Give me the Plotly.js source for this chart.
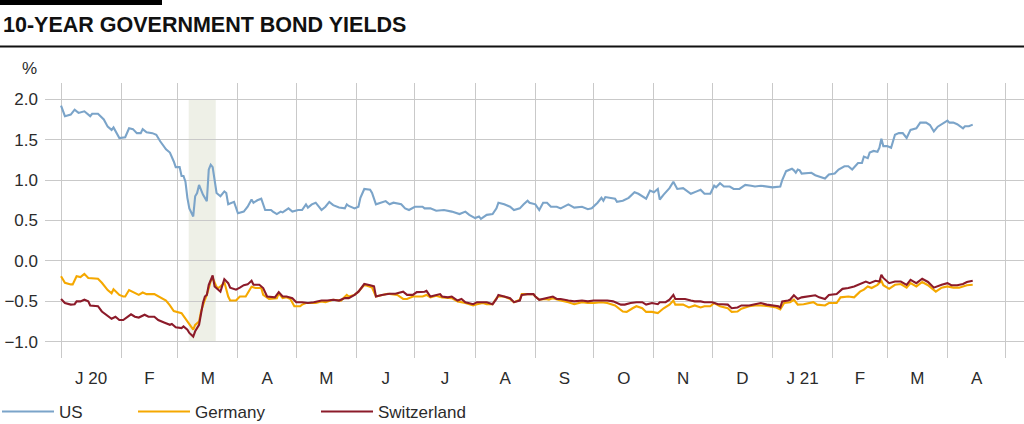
<!DOCTYPE html>
<html>
<head>
<meta charset="utf-8">
<script src="https://cdn.plot.ly/plotly-3.0.1.min.js"></script>
<style>
html,body{margin:0;padding:0;background:#fff;}
#chart{width:1024px;height:424px;}
</style>
</head>
<body>
<div id="chart"></div>
<script>
// ---------------- DATA ----------------
const monthStarts = ['2020-01-01','2020-02-01','2020-03-01','2020-04-01','2020-05-01','2020-06-01','2020-07-01','2020-08-01','2020-09-01','2020-10-01','2020-11-01','2020-12-01','2021-01-01','2021-02-01','2021-03-01','2021-04-01','2021-05-01'];
const monthLabels = ['J 20','F','M','A','M','J','J','A','S','O','N','D','J 21','F','M','A'];

const usDates = ['2020-01-01','2020-01-03','2020-01-06','2020-01-08','2020-01-10','2020-01-13','2020-01-16','2020-01-17','2020-01-20','2020-01-22','2020-01-23','2020-01-25','2020-01-27','2020-01-28','2020-01-30','2020-01-31',
'2020-02-03','2020-02-05','2020-02-07','2020-02-09','2020-02-11','2020-02-12','2020-02-14','2020-02-17','2020-02-19','2020-02-21','2020-02-24','2020-02-26','2020-02-28','2020-02-29',
'2020-03-02','2020-03-03','2020-03-04','2020-03-05','2020-03-06','2020-03-07','2020-03-09','2020-03-10','2020-03-11','2020-03-12','2020-03-14','2020-03-16','2020-03-17','2020-03-18','2020-03-19','2020-03-21','2020-03-23','2020-03-25','2020-03-26','2020-03-27','2020-03-30',
'2020-04-01','2020-04-04','2020-04-06','2020-04-08','2020-04-09','2020-04-11','2020-04-13','2020-04-15','2020-04-18','2020-04-19','2020-04-21','2020-04-23','2020-04-24','2020-04-27','2020-04-29',
'2020-05-02','2020-05-04','2020-05-06','2020-05-07','2020-05-09','2020-05-11','2020-05-14','2020-05-16','2020-05-18','2020-05-20','2020-05-23','2020-05-26','2020-05-27','2020-05-28','2020-05-31',
'2020-06-02','2020-06-03','2020-06-05','2020-06-08','2020-06-09','2020-06-11','2020-06-13','2020-06-16','2020-06-18','2020-06-20','2020-06-24','2020-06-26','2020-06-28',
'2020-07-01','2020-07-05','2020-07-06','2020-07-09','2020-07-12','2020-07-16','2020-07-20','2020-07-24','2020-07-27','2020-07-29',
'2020-08-01','2020-08-03','2020-08-04','2020-08-07','2020-08-10','2020-08-12','2020-08-13','2020-08-16','2020-08-19','2020-08-21','2020-08-24','2020-08-26','2020-08-28','2020-08-29',
'2020-09-01','2020-09-03','2020-09-05','2020-09-07','2020-09-09','2020-09-12','2020-09-14','2020-09-18','2020-09-21','2020-09-25','2020-09-28','2020-09-30',
'2020-10-03','2020-10-05','2020-10-06','2020-10-07','2020-10-09','2020-10-12','2020-10-13','2020-10-16','2020-10-19','2020-10-22','2020-10-24','2020-10-28','2020-10-30',
'2020-11-01','2020-11-03','2020-11-04','2020-11-06','2020-11-09','2020-11-11','2020-11-13','2020-11-16','2020-11-18','2020-11-20','2020-11-23','2020-11-25','2020-11-27','2020-11-30',
'2020-12-02','2020-12-03','2020-12-05','2020-12-07','2020-12-10','2020-12-12','2020-12-15','2020-12-18','2020-12-21','2020-12-23','2020-12-26','2020-12-29',
'2021-01-01','2021-01-05','2021-01-06','2021-01-08','2021-01-11','2021-01-12','2021-01-13','2021-01-14','2021-01-15','2021-01-16','2021-01-21','2021-01-23','2021-01-26','2021-01-28','2021-01-30',
'2021-02-02','2021-02-04','2021-02-07','2021-02-09','2021-02-11','2021-02-14','2021-02-16','2021-02-17','2021-02-19','2021-02-20','2021-02-22','2021-02-24','2021-02-25','2021-02-26','2021-02-27',
'2021-03-01','2021-03-03','2021-03-05','2021-03-07','2021-03-09','2021-03-11','2021-03-13','2021-03-16','2021-03-18','2021-03-21','2021-03-23','2021-03-25','2021-03-27','2021-03-29','2021-03-31',
'2021-04-01','2021-04-02','2021-04-04','2021-04-06','2021-04-08','2021-04-09','2021-04-10','2021-04-12','2021-04-14'];
const usYield = [1.92,1.79,1.81,1.87,1.83,1.85,1.79,1.82,1.82,1.77,1.75,1.66,1.62,1.65,1.56,1.52,
1.53,1.64,1.63,1.58,1.58,1.63,1.59,1.58,1.56,1.48,1.38,1.34,1.23,1.16,
1.16,1.05,1.05,0.98,0.78,0.65,0.55,0.80,0.84,0.94,0.82,0.74,1.13,1.19,1.16,0.84,0.80,0.86,0.84,0.70,0.73,
0.59,0.61,0.67,0.76,0.72,0.75,0.77,0.63,0.63,0.61,0.58,0.61,0.60,0.65,0.61,
0.63,0.63,0.70,0.66,0.70,0.72,0.63,0.67,0.73,0.69,0.66,0.65,0.70,0.68,0.65,
0.67,0.78,0.89,0.88,0.84,0.70,0.72,0.74,0.70,0.72,0.70,0.65,0.63,
0.67,0.67,0.65,0.65,0.62,0.63,0.61,0.58,0.61,0.57,
0.53,0.55,0.52,0.57,0.58,0.65,0.72,0.70,0.67,0.63,0.65,0.70,0.745,0.72,
0.70,0.63,0.72,0.72,0.67,0.67,0.65,0.70,0.66,0.67,0.64,0.65,
0.72,0.78,0.745,0.79,0.78,0.77,0.73,0.745,0.78,0.85,0.83,0.77,0.87,
0.85,0.89,0.76,0.82,0.90,0.98,0.89,0.90,0.86,0.83,0.86,0.88,0.83,0.83,
0.93,0.91,0.96,0.92,0.92,0.89,0.89,0.94,0.93,0.92,0.93,0.92,
0.91,0.92,1.00,1.11,1.14,1.12,1.09,1.13,1.12,1.08,1.09,1.06,1.03,1.02,1.07,
1.08,1.13,1.17,1.17,1.13,1.21,1.21,1.29,1.27,1.34,1.36,1.35,1.40,1.51,1.42,
1.42,1.40,1.56,1.58,1.58,1.52,1.62,1.64,1.71,1.71,1.68,1.60,1.66,1.69,1.71,
1.735,1.71,1.71,1.69,1.65,1.64,1.665,1.665,1.685];

const deDates = ['2020-01-01','2020-01-03','2020-01-06','2020-01-07','2020-01-09','2020-01-11','2020-01-13','2020-01-15','2020-01-20','2020-01-22','2020-01-25','2020-01-27','2020-01-28','2020-01-31',
'2020-02-02','2020-02-03','2020-02-05','2020-02-08','2020-02-10','2020-02-12','2020-02-14','2020-02-18','2020-02-20','2020-02-22','2020-02-24','2020-02-26','2020-02-28',
'2020-03-03','2020-03-05','2020-03-07','2020-03-09','2020-03-10','2020-03-12','2020-03-13','2020-03-14','2020-03-15','2020-03-16','2020-03-18','2020-03-19','2020-03-21','2020-03-22','2020-03-24','2020-03-25','2020-03-27','2020-03-28','2020-03-31',
'2020-04-02','2020-04-05','2020-04-08','2020-04-10','2020-04-13','2020-04-14','2020-04-17','2020-04-21','2020-04-22','2020-04-24','2020-04-26','2020-04-28','2020-04-30',
'2020-05-03','2020-05-04','2020-05-06','2020-05-09','2020-05-11','2020-05-14','2020-05-16','2020-05-20','2020-05-24','2020-05-27','2020-05-28','2020-05-31',
'2020-06-02','2020-06-05','2020-06-08','2020-06-09','2020-06-11','2020-06-14','2020-06-17','2020-06-19','2020-06-22','2020-06-25','2020-06-27','2020-06-30',
'2020-07-02','2020-07-05','2020-07-07','2020-07-09','2020-07-12','2020-07-15','2020-07-20','2020-07-23','2020-07-27','2020-07-31',
'2020-08-02','2020-08-05','2020-08-07','2020-08-10','2020-08-12','2020-08-13','2020-08-16','2020-08-19','2020-08-21','2020-08-24','2020-08-25','2020-08-28','2020-08-31',
'2020-09-01','2020-09-03','2020-09-06','2020-09-08','2020-09-10','2020-09-12','2020-09-14','2020-09-18','2020-09-21','2020-09-25','2020-09-28',
'2020-10-01','2020-10-05','2020-10-08','2020-10-11','2020-10-12','2020-10-16','2020-10-18','2020-10-21','2020-10-23','2020-10-26','2020-10-28','2020-10-31',
'2020-11-03','2020-11-04','2020-11-06','2020-11-09','2020-11-11','2020-11-12','2020-11-16','2020-11-19','2020-11-22','2020-11-25','2020-11-27','2020-11-30',
'2020-12-02','2020-12-05','2020-12-09','2020-12-11','2020-12-14','2020-12-16','2020-12-20','2020-12-23','2020-12-26','2020-12-30',
'2021-01-03','2021-01-05','2021-01-07','2021-01-10','2021-01-12','2021-01-14','2021-01-17','2021-01-22','2021-01-24','2021-01-28','2021-01-30',
'2021-02-03','2021-02-05','2021-02-09','2021-02-12','2021-02-15','2021-02-17','2021-02-19','2021-02-21','2021-02-24','2021-02-26','2021-02-27',
'2021-03-02','2021-03-05','2021-03-08','2021-03-11','2021-03-13','2021-03-16','2021-03-19','2021-03-22','2021-03-26','2021-03-29',
'2021-04-01','2021-04-04','2021-04-07','2021-04-11','2021-04-14'];
const deYield = [-0.19,-0.27,-0.29,-0.29,-0.19,-0.20,-0.16,-0.21,-0.22,-0.27,-0.36,-0.40,-0.35,-0.42,
-0.44,-0.44,-0.36,-0.40,-0.42,-0.39,-0.41,-0.41,-0.44,-0.46,-0.49,-0.55,-0.62,
-0.645,-0.71,-0.78,-0.85,-0.79,-0.75,-0.625,-0.54,-0.48,-0.42,-0.25,-0.21,-0.32,-0.335,-0.295,-0.26,-0.44,-0.49,-0.49,
-0.44,-0.44,-0.32,-0.335,-0.335,-0.42,-0.47,-0.46,-0.40,-0.46,-0.45,-0.47,-0.56,
-0.56,-0.54,-0.52,-0.52,-0.52,-0.50,-0.51,-0.48,-0.49,-0.42,-0.44,-0.42,
-0.38,-0.295,-0.315,-0.33,-0.44,-0.42,-0.405,-0.41,-0.42,-0.47,-0.47,-0.44,
-0.44,-0.44,-0.42,-0.45,-0.43,-0.45,-0.46,-0.50,-0.52,-0.55,
-0.535,-0.52,-0.535,-0.535,-0.46,-0.44,-0.44,-0.47,-0.51,-0.48,-0.41,-0.41,-0.41,
-0.44,-0.48,-0.47,-0.48,-0.46,-0.48,-0.49,-0.51,-0.535,-0.51,-0.52,
-0.52,-0.51,-0.52,-0.54,-0.55,-0.625,-0.63,-0.585,-0.56,-0.585,-0.63,-0.63,
-0.645,-0.625,-0.585,-0.54,-0.49,-0.54,-0.54,-0.575,-0.55,-0.575,-0.56,-0.56,
-0.52,-0.56,-0.585,-0.63,-0.625,-0.59,-0.56,-0.55,-0.55,-0.56,
-0.575,-0.60,-0.52,-0.51,-0.48,-0.54,-0.535,-0.51,-0.54,-0.55,-0.52,
-0.52,-0.45,-0.44,-0.45,-0.38,-0.355,-0.315,-0.335,-0.295,-0.245,-0.30,
-0.345,-0.295,-0.285,-0.33,-0.275,-0.315,-0.26,-0.30,-0.38,-0.33,
-0.315,-0.33,-0.33,-0.30,-0.295];

const chDates = ['2020-01-01','2020-01-03','2020-01-06','2020-01-08','2020-01-09','2020-01-11','2020-01-13','2020-01-15','2020-01-16','2020-01-18','2020-01-20','2020-01-22','2020-01-25','2020-01-27','2020-01-29','2020-01-31',
'2020-02-02','2020-02-03','2020-02-06','2020-02-08','2020-02-10','2020-02-13','2020-02-15','2020-02-18','2020-02-20','2020-02-23','2020-02-26','2020-02-27','2020-02-29',
'2020-03-03','2020-03-04','2020-03-06','2020-03-07','2020-03-09','2020-03-10','2020-03-12','2020-03-13','2020-03-14','2020-03-15','2020-03-16','2020-03-17','2020-03-19','2020-03-20','2020-03-21','2020-03-23','2020-03-25','2020-03-27','2020-03-28','2020-03-31',
'2020-04-02','2020-04-04','2020-04-06','2020-04-08','2020-04-09','2020-04-12','2020-04-14','2020-04-16','2020-04-20','2020-04-22','2020-04-24','2020-04-26','2020-04-29',
'2020-05-01','2020-05-04','2020-05-07','2020-05-10','2020-05-14','2020-05-17','2020-05-20','2020-05-23','2020-05-26','2020-05-28','2020-05-31',
'2020-06-02','2020-06-05','2020-06-08','2020-06-10','2020-06-11','2020-06-14','2020-06-18','2020-06-21','2020-06-25','2020-06-27','2020-06-30',
'2020-07-02','2020-07-06','2020-07-07','2020-07-09','2020-07-12','2020-07-14','2020-07-15','2020-07-18','2020-07-20','2020-07-23','2020-07-25','2020-07-27','2020-07-31',
'2020-08-02','2020-08-05','2020-08-07','2020-08-10','2020-08-12','2020-08-13','2020-08-16','2020-08-19','2020-08-21','2020-08-24','2020-08-25','2020-08-28','2020-08-31',
'2020-09-01','2020-09-03','2020-09-06','2020-09-08','2020-09-10','2020-09-12','2020-09-14','2020-09-18','2020-09-21','2020-09-25','2020-09-28',
'2020-10-01','2020-10-05','2020-10-08','2020-10-11','2020-10-15','2020-10-17','2020-10-20','2020-10-23','2020-10-26','2020-10-28','2020-10-31',
'2020-11-03','2020-11-04','2020-11-07','2020-11-09','2020-11-11','2020-11-12','2020-11-15','2020-11-17','2020-11-20','2020-11-22','2020-11-25','2020-11-27',
'2020-12-01','2020-12-04','2020-12-06','2020-12-09','2020-12-11','2020-12-14','2020-12-16','2020-12-20','2020-12-23','2020-12-26','2020-12-29',
'2021-01-01','2021-01-04','2021-01-05','2021-01-06','2021-01-09','2021-01-10','2021-01-12','2021-01-14','2021-01-16','2021-01-20','2021-01-23','2021-01-25','2021-01-28','2021-01-30',
'2021-02-03','2021-02-06','2021-02-09','2021-02-12','2021-02-15','2021-02-18','2021-02-20','2021-02-23','2021-02-25','2021-02-26','2021-02-27',
'2021-03-02','2021-03-05','2021-03-08','2021-03-11','2021-03-13','2021-03-16','2021-03-19','2021-03-22','2021-03-25','2021-03-29',
'2021-04-01','2021-04-03','2021-04-06','2021-04-09','2021-04-11','2021-04-14'];
const chYield = [-0.47,-0.52,-0.54,-0.535,-0.50,-0.50,-0.48,-0.50,-0.55,-0.555,-0.56,-0.625,-0.675,-0.715,-0.69,-0.73,
-0.73,-0.71,-0.66,-0.69,-0.70,-0.665,-0.69,-0.69,-0.73,-0.76,-0.79,-0.78,-0.82,
-0.83,-0.81,-0.85,-0.89,-0.935,-0.87,-0.79,-0.625,-0.52,-0.44,-0.42,-0.295,-0.18,-0.315,-0.335,-0.38,-0.225,-0.275,-0.33,-0.355,
-0.33,-0.30,-0.29,-0.245,-0.295,-0.295,-0.335,-0.44,-0.45,-0.385,-0.44,-0.44,-0.46,
-0.51,-0.51,-0.52,-0.51,-0.49,-0.49,-0.48,-0.49,-0.46,-0.46,-0.42,
-0.38,-0.285,-0.30,-0.315,-0.44,-0.42,-0.405,-0.405,-0.38,-0.42,-0.42,
-0.385,-0.38,-0.37,-0.44,-0.42,-0.41,-0.44,-0.45,-0.44,-0.49,-0.47,-0.51,-0.535,
-0.51,-0.51,-0.51,-0.535,-0.47,-0.42,-0.44,-0.46,-0.51,-0.49,-0.42,-0.41,-0.41,
-0.44,-0.48,-0.46,-0.45,-0.44,-0.47,-0.47,-0.49,-0.50,-0.49,-0.50,
-0.49,-0.49,-0.49,-0.50,-0.54,-0.54,-0.52,-0.51,-0.51,-0.54,-0.52,
-0.535,-0.51,-0.51,-0.48,-0.42,-0.47,-0.47,-0.47,-0.49,-0.50,-0.50,-0.51,
-0.51,-0.535,-0.535,-0.54,-0.585,-0.575,-0.55,-0.55,-0.535,-0.52,-0.54,
-0.55,-0.56,-0.575,-0.50,-0.49,-0.48,-0.425,-0.47,-0.45,-0.44,-0.425,-0.45,-0.47,-0.42,
-0.41,-0.345,-0.335,-0.315,-0.285,-0.255,-0.275,-0.245,-0.255,-0.17,-0.21,
-0.275,-0.255,-0.255,-0.295,-0.235,-0.275,-0.22,-0.26,-0.33,-0.295,
-0.275,-0.30,-0.30,-0.285,-0.26,-0.245];

const seriesNames = ['US','Germany','Switzerland'];
const shadeStart = '2020-03-06 16:00';
const shadeEnd = '2020-03-20 14:00';

// ---------------- STYLE / LAYOUT ----------------
const colors = {US:'#7ba4c9', Germany:'#f5a800', Switzerland:'#8c1b2a'};
const FONT = 'Liberation Sans, Arial, sans-serif';
const TXT = '#2b2b2b';

// pixel -> paper helpers (plot area: left 45, top 83, width 979, height 275)
const PL=45, PT=83, PW=979, PH=275;
const px = v => (v-PL)/PW;
const py = v => (PT+PH-v)/PH;

const labelPos = monthLabels.map((_,i)=>{
  const a = new Date(monthStarts[i]+'T00:00:00Z').getTime();
  const b = new Date(monthStarts[i+1]+'T00:00:00Z').getTime();
  return new Date((a+b)/2).toISOString().slice(0,19).replace('T',' ');
});

const xRange = ['2019-12-23 18:00','2021-05-10 09:00'];

const traces = [
  {x:usDates, y:usYield, name:seriesNames[0], color:colors.US, lw:69},
  {x:deDates, y:deYield, name:seriesNames[1], color:colors.Germany, lw:116},
  {x:chDates, y:chYield, name:seriesNames[2], color:colors.Switzerland, lw:100}
].map(s=>({
  type:'scatter', mode:'lines', x:s.x, y:s.y, name:s.name,
  line:{color:s.color, width:2.1}, legendwidth:s.lw,
  hoverinfo:'skip'
}));

const layout = {
  width:1024, height:424,
  margin:{l:PL, r:1024-PL-PW, t:PT, b:424-PT-PH, pad:0, autoexpand:false},
  paper_bgcolor:'#fff', plot_bgcolor:'rgba(0,0,0,0)',
  font:{family:FONT, size:17, color:TXT},
  showlegend:true,
  legend:{orientation:'h', x:px(-3), xanchor:'left', y:py(412), yanchor:'middle',
          font:{family:FONT, size:17, color:TXT}, itemwidth:52, bgcolor:'rgba(0,0,0,0)',
          traceorder:'normal', tracegroupgap:0},
  xaxis:{type:'date', range:xRange, tickmode:'array', tickvals:monthStarts,
         showticklabels:false, showgrid:true, gridcolor:'#c9c9c9', gridwidth:1,
         zeroline:false, showline:false, ticks:'', fixedrange:true, automargin:false},
  xaxis2:{type:'date', range:xRange, overlaying:'x', side:'bottom', anchor:'y',
          tickmode:'array', tickvals:labelPos, ticktext:monthLabels,
          showgrid:false, zeroline:false, showline:false, ticks:'', automargin:false,
          tickfont:{family:FONT, size:17, color:TXT}, ticklabelstandoff:8, fixedrange:true},
  yaxis:{range:[-1.2,2.2], tickmode:'linear', tick0:-1, dtick:0.5, tickformat:'.1f',
         showgrid:true, gridcolor:'#c9c9c9', gridwidth:1, zeroline:false, showline:false, automargin:false,
         ticks:'', tickfont:{family:FONT, size:17, color:TXT}, ticklabelstandoff:6, fixedrange:true},
  shapes:[
    {type:'rect', xref:'x', yref:'y', x0:shadeStart, x1:shadeEnd, y0:-1, y1:2,
     fillcolor:'#eef0e7', line:{width:0}, layer:'below'},
    {type:'rect', xref:'paper', yref:'paper', x0:px(0), x1:px(162), y0:py(5), y1:py(0),
     fillcolor:'#000', line:{width:0}},
    {type:'line', xref:'paper', yref:'paper', x0:px(0), x1:1, y0:py(46.5), y1:py(46.5),
     line:{color:'#111', width:2}}
  ],
  annotations:[
    {xref:'paper', yref:'paper', x:px(1), y:py(25), xanchor:'left', yanchor:'middle',
     text:'<b>10-YEAR GOVERNMENT BOND YIELDS</b>', showarrow:false,
     font:{family:FONT, size:21.5, color:'#111'}},
    {xref:'paper', yref:'paper', x:px(29), y:py(69), xanchor:'center', yanchor:'middle',
     text:'%', showarrow:false, font:{family:FONT, size:17, color:TXT}}
  ]
};

// invisible helper trace to activate xaxis2 (month labels)
traces.push({type:'scatter', mode:'lines', x:xRange, y:[null,null], xaxis:'x2', yaxis:'y',
             showlegend:false, hoverinfo:'skip', line:{width:0}});

Plotly.newPlot('chart', traces, layout, {staticPlot:true, displayModeBar:false});
</script>
</body>
</html>
